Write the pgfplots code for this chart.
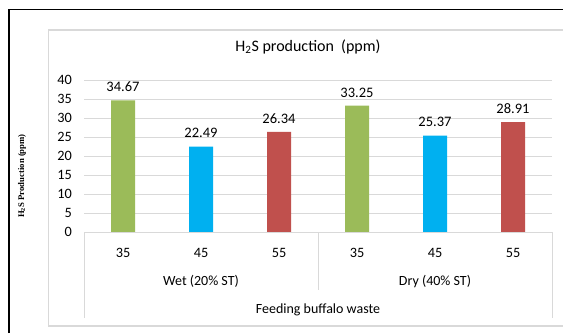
\documentclass[border=0pt]{standalone}
\usepackage{pgfplots}
\pgfplotsset{compat=1.18}
\usepackage{fontspec}
\setmainfont{Carlito}
\newfontfamily\lserif{Liberation Serif}
\definecolor{cgreen}{HTML}{9BBB59}
\definecolor{cblue}{HTML}{00B0F0}
\definecolor{cred}{HTML}{C0504D}
\definecolor{cgrid}{HTML}{D9D9D9}
\begin{document}
\begin{tikzpicture}[x=1bp,y=1bp]
\useasboundingbox (0,0) rectangle (563,333);
\fill[white] (0,0) rectangle (563,333);
\draw[black, line width=1.5bp] (9,0) -- (9,323.5) -- (563,323.5);
\draw[cgrid, line width=1.5bp] (563,303) -- (48.5,303) -- (48.5,7) -- (563,7);
\begin{axis}[
  at={(84bp,101bp)}, anchor=south west,
  scale only axis, width=468bp, height=152bp,
  xmin=-0.5, xmax=5.5, ymin=0, ymax=40,
  ytick={0,5,...,40},
  xtick={0,...,5}, xticklabels={35,45,55,35,45,55},
  axis line style={draw=none},
  major tick length=0pt,
  ymajorgrids, grid style={cgrid, line width=0.8bp},
  ybar, bar width=24bp, bar shift=0pt,
  clip=false,
  /pgf/number format/assume math mode=true,
  tick label style={font=\fontsize{14.3bp}{16bp}\selectfont},
  yticklabel style={anchor=east, inner sep=0pt, xshift=-12bp},
  xticklabel style={anchor=base, inner sep=0pt, yshift=-25bp},
  nodes near coords={\pgfmathprintnumber[fixed,fixed zerofill,precision=2,assume math mode=true]{\pgfplotspointmeta}},
  every node near coord/.append style={font=\fontsize{14.5bp}{16bp}\selectfont, yshift=5bp, text=black},
  title={H\textsubscript{2}S production\ \ (ppm)},
  title style={font=\fontsize{16bp}{18bp}\selectfont, at={(axis description cs:0.4786,1.149)}, anchor=base, inner sep=0pt},
  ylabel={H\textsubscript{2}S Production (ppm)},
  ylabel style={font=\lserif\bfseries\fontsize{8.7bp}{10bp}\selectfont, at={(axis description cs:-0.1325,0.368)}, anchor=center},
]
\addplot[fill=cgreen, draw=none] coordinates {(0,34.67) (3,33.25)};
\addplot[fill=cblue, draw=none] coordinates {(1,22.49) (4,25.37)};
\addplot[fill=cred, draw=none] coordinates {(2,26.34) (5,28.91)};
\draw[cgrid, line width=1bp] (axis cs:-0.5,0) -- (axis cs:5.5,0);
\draw[cgrid, line width=1bp] (axis cs:-0.5,0) -- (axis cs:-0.5,-22.63);
\draw[cgrid, line width=1bp] (axis cs:2.5,0) -- (axis cs:2.5,-15.26);
\draw[cgrid, line width=1bp] (axis cs:5.5,0) -- (axis cs:5.5,-22.63);
\node[anchor=base, font=\fontsize{14bp}{16bp}\selectfont, yshift=-53.5bp] at (axis cs:1,0) {Wet (20\% ST)};
\node[anchor=base, font=\fontsize{14bp}{16bp}\selectfont, yshift=-53.5bp] at (axis cs:4,0) {Dry (40\% ST)};
\node[anchor=base, font=\fontsize{14bp}{16bp}\selectfont, yshift=-81bp] at (axis cs:2.5,0) {Feeding buffalo waste};
\end{axis}
\end{tikzpicture}
\end{document}
